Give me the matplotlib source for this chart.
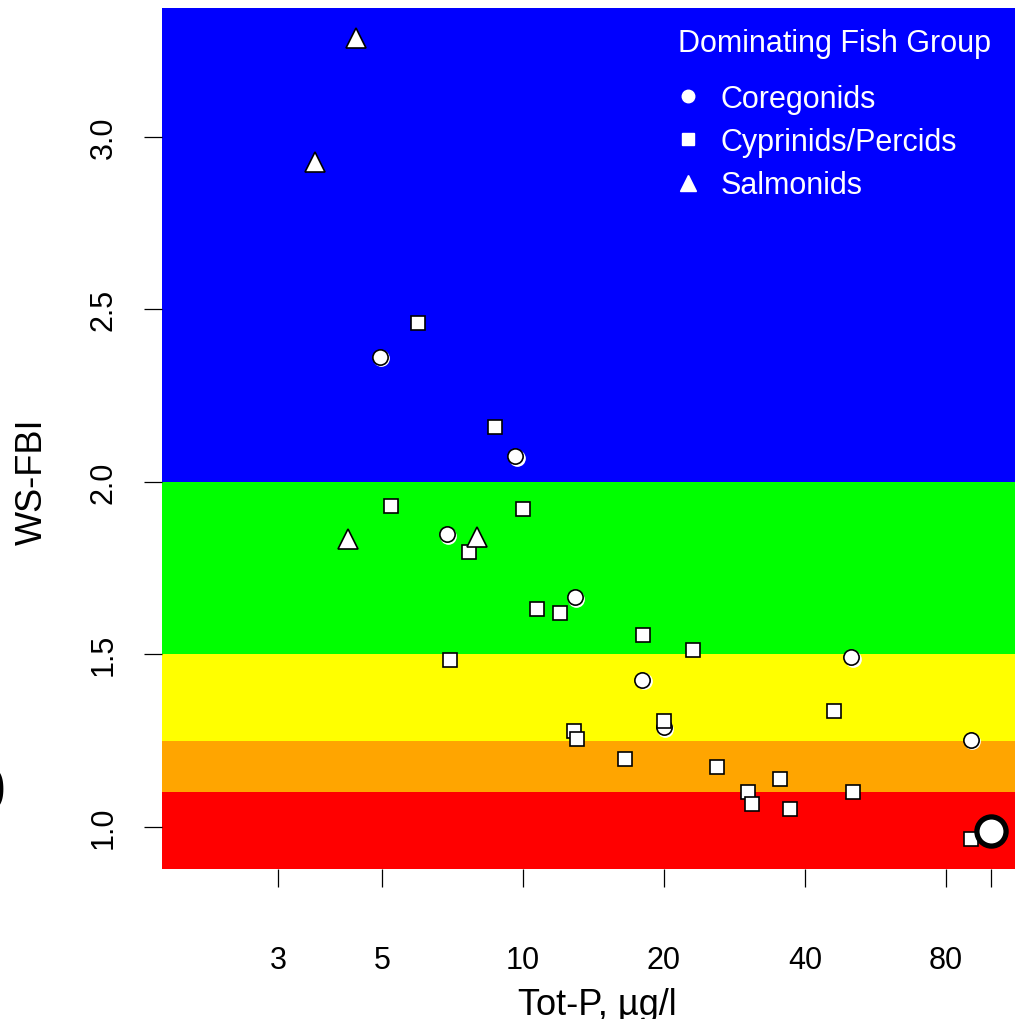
import matplotlib
matplotlib.use("Agg")
import matplotlib.pyplot as plt
from matplotlib.lines import Line2D
from matplotlib import font_manager
from matplotlib.transforms import offset_copy

# ---------------- data ----------------
coreg_totp = [4.95, 9.62, 6.88, 12.9, 17.96, 20.0, 50.2, 90.4]
coreg_fbi = [2.363, 2.074, 1.848, 1.666, 1.426, 1.289, 1.492, 1.252]

cyp_totp = [5.97, 8.71, 5.22, 10.0, 7.67, 10.7, 12.0, 18.0, 23.1, 6.98, 12.85,
            13.04, 20.0, 16.5, 25.9, 46.1, 35.4, 30.2, 30.8, 37.2, 50.6, 90.4]
cyp_fbi = [2.459, 2.158, 1.929, 1.920, 1.796, 1.631, 1.619, 1.556, 1.512, 1.483, 1.278,
           1.255, 1.307, 1.197, 1.174, 1.336, 1.139, 1.101, 1.067, 1.052, 1.101, 0.965]

salm_totp = [4.40, 3.60, 4.23, 7.98]
salm_fbi = [3.287, 2.928, 1.834, 1.839]

highlight_totp = [100.0]
highlight_fbi = [0.988]

band_edges = [0.0, 1.1, 1.25, 1.5, 2.0, 4.0]
band_colors = ["#FF0000", "#FFA500", "#FFFF00", "#00FF00", "#0000FF"]

x_ticks = [3, 5, 10, 20, 40, 80, 100]
x_ticklabels = ["3", "5", "10", "20", "40", "80", ""]
y_ticks = [1.0, 1.5, 2.0, 2.5, 3.0]
y_ticklabels = ["1.0", "1.5", "2.0", "2.5", "3.0"]

groups = ["Coregonids", "Cyprinids/Percids", "Salmonids"]

# ---------------- fonts ----------------
names = {f.name for f in font_manager.fontManager.ttflist}
fam = "Liberation Sans" if "Liberation Sans" in names else "DejaVu Sans"
plt.rcParams["font.family"] = [fam, "DejaVu Sans"]

W, H = 1015, 1020
fig = plt.figure(figsize=(W / 100, H / 100), dpi=100)
ax = fig.add_axes([162 / W, (H - 870) / H, (1015 - 162) / W, (870 - 9) / H])

for i, c in enumerate(band_colors):
    ax.axhspan(band_edges[i], band_edges[i + 1], color=c, lw=0, zorder=0)

ax.set_xscale("log")
ax.set_xlim(1.696, 112.3)
ax.set_ylim(0.878, 3.373)

mk = dict(linestyle="none", markerfacecolor="white", markeredgecolor="black",
          markeredgewidth=1.2, zorder=3)
# faint white offset halo under the coregonid circles
ax.plot(coreg_totp, coreg_fbi, marker="o", markersize=11, linestyle="none",
        markerfacecolor="white", markeredgecolor="white", markeredgewidth=1.0,
        transform=offset_copy(ax.transData, fig=fig, x=1.5, y=-1.5, units="dots"),
        zorder=2.5)
ax.plot(coreg_totp, coreg_fbi, marker="o", markersize=11, **mk)
ax.plot(cyp_totp, cyp_fbi, marker="s", markersize=10, **mk)
ax.plot(salm_totp, salm_fbi, marker="^", markersize=14, **mk)
ax.plot(highlight_totp, highlight_fbi, marker="o", markersize=21,
        linestyle="none", markerfacecolor="white", markeredgecolor="black",
        markeredgewidth=3.8, zorder=4)

for s in ax.spines.values():
    s.set_visible(False)

ax.set_xticks(x_ticks)
ax.set_xticklabels(x_ticklabels)
ax.xaxis.set_minor_locator(matplotlib.ticker.NullLocator())
ax.set_yticks(y_ticks)
ax.set_yticklabels(y_ticklabels, rotation=90, va="center")
ax.tick_params(axis="both", direction="out", length=13, width=0.9, labelsize=22)
ax.tick_params(axis="x", pad=42)
ax.tick_params(axis="y", pad=18)

fig.text(32 / W, 1 - 482 / H, "WS-FBI", rotation=90, ha="center", va="center", fontsize=26)
fig.text(597 / W, (H - 1015) / H, "Tot-P, µg/l", ha="center", va="baseline", fontsize=26)
fig.text(5 / W, 1 - 795 / H, "0", ha="right", va="center", fontsize=44, fontweight="bold")

# legend
fig.text(835 / W, 1 - 44 / H, "Dominating Fish Group", ha="center", va="center",
         fontsize=22, color="white")
handles = [
    Line2D([], [], linestyle="none", marker="o", markersize=9, markerfacecolor="white", markeredgecolor="white"),
    Line2D([], [], linestyle="none", marker="s", markersize=8.5, markerfacecolor="white", markeredgecolor="white"),
    Line2D([], [], linestyle="none", marker="^", markersize=11, markerfacecolor="white", markeredgecolor="white"),
]
leg = ax.legend(handles, groups, loc="upper left", bbox_to_anchor=(673 / W, 1 - 85 / H),
                bbox_transform=fig.transFigure, frameon=False, fontsize=22,
                labelcolor="white", handlelength=1.0, handletextpad=0.56,
                borderpad=0, borderaxespad=0, labelspacing=0.43)

fig.savefig("out.png", dpi=100)
